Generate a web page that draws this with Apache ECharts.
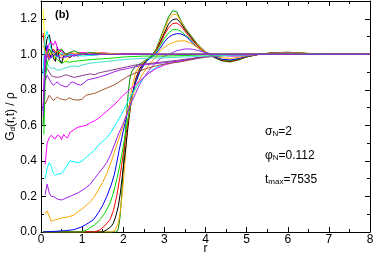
<!DOCTYPE html>
<html><head><meta charset="utf-8">
<script src="https://cdn.jsdelivr.net/npm/echarts@6/dist/echarts.min.js"></script>
<style>html,body{margin:0;padding:0;background:#fff}#c{width:374px;height:256px}</style>
</head><body><div id="c"></div>
<script>
// ---- data: each curve is a list of [r, G_d/rho] pairs ----
const xTicks = [0,1,2,3,4,5,6,7,8];
const yTicks = [0.0,0.2,0.4,0.6,0.8,1.0,1.2];

const cDarkGreen = [[0.05,0],[1.84,0],[1.88,0.02],[1.92,0.08],[1.96,0.2],[2.0,0.36],[2.04,0.52],[2.08,0.66],[2.12,0.78],[2.16,0.86],[2.2,0.9],[2.3,0.935],[2.4,0.945],[2.5,0.96],
 [2.6,0.975],[2.7,0.995],[2.8,1.03],[2.9,1.09],[3.0,1.15],[3.1,1.21],[3.2,1.245],[3.3,1.24],[3.4,1.19],[3.5,1.15],[3.6,1.12],[3.7,1.09],[3.8,1.06],[3.9,1.035],[4.0,1.015],[4.2,0.985],[4.4,0.963],[4.6,0.957],[4.8,0.968],[5.0,0.985],[5.3,1.0],[5.6,1.008],[6.0,1.012],[6.5,1.005],[7.0,1.0],[8.0,1.0]];
const cOrangeA = [[0.05,0],[1.72,0],[1.8,0.01],[1.88,0.05],[1.93,0.12],[1.97,0.2],[2.02,0.33],[2.06,0.45],[2.1,0.58],[2.15,0.7],[2.2,0.8],[2.3,0.9],[2.4,0.935],[2.5,0.955],
 [2.6,0.97],[2.7,0.99],[2.8,1.025],[2.9,1.08],[3.0,1.14],[3.1,1.195],[3.2,1.225],[3.3,1.225],[3.4,1.185],[3.5,1.145],[3.6,1.115],[3.7,1.085],[3.8,1.055],[3.9,1.03],[4.0,1.012],[4.2,0.985],[4.4,0.965],[4.6,0.958],[4.8,0.968],[5.0,0.985],[5.3,1.0],[5.6,1.008],[6.0,1.011],[6.5,1.005],[7.0,1.0],[8.0,1.0]];
const cBlackA = [[0.05,0],[1.5,0],[1.6,0.013],[1.7,0.03],[1.76,0.05],[1.82,0.09],[1.88,0.145],[1.93,0.22],[1.97,0.3],[2.01,0.38],[2.05,0.45],[2.1,0.56],[2.15,0.66],[2.2,0.75],[2.3,0.86],[2.4,0.92],[2.5,0.95],
 [2.6,0.97],[2.7,0.99],[2.8,1.02],[2.9,1.07],[3.0,1.12],[3.1,1.17],[3.2,1.195],[3.3,1.2],[3.4,1.175],[3.5,1.14],[3.6,1.11],[3.7,1.08],[3.8,1.05],[3.9,1.028],[4.0,1.01],[4.2,0.984],[4.4,0.965],[4.6,0.96],[4.8,0.97],[5.0,0.986],[5.3,1.0],[5.6,1.007],[6.0,1.01],[6.5,1.004],[7.0,1.0],[8.0,1.0]];
const cRedA = [[0.05,0],[1.3,0],[1.44,0.013],[1.55,0.035],[1.68,0.07],[1.76,0.12],[1.84,0.2],[1.92,0.31],[2.0,0.44],[2.05,0.52],[2.1,0.6],[2.2,0.74],[2.3,0.85],[2.4,0.91],[2.5,0.945],
 [2.6,0.975],[2.7,0.99],[2.8,1.02],[2.9,1.06],[3.0,1.11],[3.1,1.15],[3.2,1.172],[3.3,1.176],[3.4,1.16],[3.5,1.13],[3.6,1.1],[3.7,1.075],[3.8,1.05],[3.9,1.028],[4.0,1.01],[4.2,0.986],[4.4,0.968],[4.6,0.962],[4.8,0.972],[5.0,0.987],[5.3,1.0],[5.6,1.007],[6.0,1.01],[6.5,1.004],[7.0,1.0],[8.0,1.0]];
const cGreenA = [[0.05,0],[1.0,0],[1.12,0.013],[1.3,0.04],[1.44,0.07],[1.56,0.11],[1.68,0.163],[1.76,0.22],[1.84,0.293],[1.92,0.38],[1.97,0.443],[2.05,0.55],[2.1,0.62],[2.2,0.74],[2.3,0.84],[2.4,0.9],[2.5,0.94],
 [2.6,0.975],[2.7,0.99],[2.8,1.015],[2.9,1.05],[3.0,1.09],[3.1,1.12],[3.2,1.138],[3.3,1.14],[3.4,1.13],[3.5,1.11],[3.6,1.09],[3.7,1.065],[3.8,1.042],[3.9,1.024],[4.0,1.008],[4.2,0.987],[4.4,0.97],[4.6,0.965],[4.8,0.974],[5.0,0.988],[5.3,1.0],[5.6,1.006],[6.0,1.009],[6.5,1.004],[7.0,1.0],[8.0,1.0]];
const cBlueA = [[0.05,0],[0.3,0.003],[0.6,0.008],[0.8,0.013],[1.0,0.03],[1.15,0.05],[1.28,0.07],[1.4,0.11],[1.5,0.15],[1.6,0.2],[1.7,0.26],[1.78,0.32],[1.84,0.387],[1.9,0.46],[1.97,0.536],[2.05,0.62],[2.1,0.67],[2.2,0.76],[2.3,0.84],[2.4,0.9],[2.5,0.94],
 [2.6,0.97],[2.7,0.985],[2.8,1.005],[2.9,1.035],[3.0,1.07],[3.1,1.095],[3.2,1.11],[3.3,1.116],[3.4,1.115],[3.5,1.105],[3.6,1.085],[3.7,1.06],[3.8,1.04],[3.9,1.022],[4.0,1.008],[4.2,0.988],[4.4,0.972],[4.6,0.968],[4.8,0.976],[5.0,0.989],[5.3,1.0],[5.6,1.006],[6.0,1.008],[6.5,1.003],[7.0,1.0],[8.0,1.0]];
const cOrangeB = [[0.1,0.1],[0.15,0.118],[0.2,0.09],[0.25,0.06],[0.3,0.065],[0.4,0.072],[0.5,0.08],[0.6,0.082],[0.7,0.088],[0.8,0.095],[0.9,0.115],[1.0,0.13],[1.1,0.15],[1.2,0.17],[1.3,0.2],[1.4,0.24],[1.5,0.28],[1.6,0.33],[1.7,0.39],[1.8,0.46],[1.9,0.53],[2.0,0.6],[2.1,0.68],[2.2,0.75],[2.3,0.81],[2.4,0.86],[2.5,0.9],
 [2.6,0.93],[2.7,0.96],[2.8,0.99],[2.9,1.02],[3.0,1.04],[3.1,1.055],[3.2,1.065],[3.3,1.073],[3.4,1.076],[3.5,1.075],[3.6,1.068],[3.7,1.055],[3.8,1.04],[3.9,1.025],[4.0,1.012],[4.2,0.992],[4.4,0.98],[4.6,0.977],[4.8,0.983],[5.0,0.992],[5.5,1.005],[6.0,1.009],[6.5,1.004],[7.0,1.0],[8.0,1.0]];
const cVioletA = [[0.1,0.21],[0.15,0.27],[0.2,0.22],[0.25,0.2],[0.3,0.2],[0.4,0.185],[0.5,0.18],[0.6,0.19],[0.7,0.2],[0.8,0.21],[0.9,0.22],[1.0,0.235],[1.1,0.25],[1.2,0.27],[1.3,0.3],[1.4,0.33],[1.5,0.36],[1.6,0.39],[1.7,0.44],[1.8,0.5],[1.9,0.56],[2.0,0.61],[2.1,0.67],[2.2,0.73],[2.3,0.78],[2.4,0.83],[2.5,0.87],
 [2.6,0.9],[2.7,0.93],[2.8,0.955],[2.9,0.975],[3.0,0.99],[3.1,1.0],[3.2,1.01],[3.3,1.02],[3.4,1.025],[3.5,1.03],[3.6,1.03],[3.7,1.028],[3.8,1.022],[4.0,1.01],[4.2,1.0],[4.4,0.993],[4.6,0.99],[4.8,0.99],[5.0,0.995],[5.5,1.003],[6.0,1.007],[6.5,1.003],[7.0,1.0],[8.0,1.0]];
const cCyanA = [[0.1,0.3],[0.15,0.36],[0.2,0.39],[0.25,0.37],[0.3,0.33],[0.35,0.32],[0.4,0.325],[0.5,0.33],[0.6,0.36],[0.7,0.4],[0.8,0.395],[0.9,0.39],[1.0,0.4],[1.1,0.42],[1.2,0.44],[1.3,0.46],[1.4,0.49],[1.5,0.51],[1.6,0.53],[1.7,0.56],[1.8,0.6],[1.9,0.64],[2.0,0.68],[2.1,0.73],[2.2,0.77],[2.3,0.81],[2.4,0.84],[2.5,0.87],
 [2.6,0.89],[2.7,0.91],[2.8,0.925],[2.9,0.935],[3.0,0.945],[3.2,0.955],[3.4,0.962],[3.6,0.97],[3.8,0.978],[4.0,0.985],[4.5,0.993],[5.0,0.998],[6.0,1.003],[7.0,1.0],[8.0,1.0]];
const cMagentaA = [[0.1,0.38],[0.15,0.5],[0.2,0.53],[0.25,0.545],[0.3,0.53],[0.35,0.525],[0.4,0.545],[0.45,0.54],[0.5,0.52],[0.55,0.55],[0.6,0.535],[0.65,0.53],[0.7,0.56],[0.8,0.575],[0.9,0.59],[1.0,0.595],[1.1,0.6],[1.2,0.615],[1.3,0.625],[1.4,0.64],[1.5,0.66],[1.6,0.68],[1.7,0.7],[1.8,0.72],[1.9,0.745],[2.0,0.77],[2.1,0.79],[2.2,0.81],[2.3,0.83],[2.4,0.85],[2.5,0.87],
 [2.6,0.89],[2.7,0.905],[2.8,0.92],[2.9,0.93],[3.0,0.94],[3.2,0.952],[3.4,0.962],[3.6,0.972],[3.8,0.98],[4.0,0.987],[4.5,0.995],[5.0,1.0],[6.0,1.003],[7.0,1.0],[8.0,1.0]];
const cBrownA = [[0.1,0.72],[0.15,0.742],[0.2,0.77],[0.25,0.755],[0.3,0.74],[0.35,0.75],[0.4,0.76],[0.45,0.75],[0.5,0.748],[0.55,0.745],[0.6,0.742],[0.65,0.75],[0.7,0.755],[0.75,0.748],[0.8,0.745],[0.9,0.742],[1.0,0.748],[1.1,0.77],[1.2,0.775],[1.3,0.78],[1.4,0.79],[1.5,0.8],[1.6,0.81],[1.7,0.82],[1.8,0.83],[1.9,0.845],[2.0,0.86],[2.1,0.875],[2.2,0.885],[2.3,0.895],[2.4,0.905],[2.5,0.915],
 [2.6,0.922],[2.8,0.935],[3.0,0.945],[3.2,0.952],[3.4,0.958],[3.6,0.967],[3.8,0.976],[4.0,0.984],[4.5,0.994],[5.0,1.0],[6.0,1.003],[7.0,1.0],[8.0,1.0]];
const cVioletB = [[0.1,0.85],[0.15,0.882],[0.2,0.86],[0.25,0.84],[0.3,0.826],[0.35,0.835],[0.4,0.845],[0.45,0.83],[0.5,0.825],[0.6,0.817],[0.65,0.82],[0.7,0.835],[0.76,0.845],[0.85,0.835],[0.96,0.826],[1.05,0.84],[1.12,0.855],[1.2,0.86],[1.3,0.865],[1.44,0.874],[1.6,0.885],[1.76,0.9],[1.9,0.91],[2.1,0.92],[2.3,0.93],[2.5,0.94],
 [2.8,0.948],[3.0,0.953],[3.2,0.958],[3.4,0.963],[3.6,0.972],[3.8,0.98],[4.0,0.987],[4.5,0.995],[5.0,0.999],[6.0,1.002],[7.0,1.0],[8.0,1.0]];
const cPlum = [[0.1,0.9],[0.15,0.92],[0.2,0.9],[0.25,0.88],[0.3,0.875],[0.4,0.87],[0.5,0.875],[0.6,0.885],[0.7,0.878],[0.8,0.87],[0.9,0.875],[1.0,0.88],[1.1,0.885],[1.2,0.89],[1.3,0.885],[1.4,0.895],[1.5,0.9],[1.7,0.91],[1.9,0.92],[2.1,0.93],[2.3,0.94],[2.5,0.945],
 [2.8,0.953],[3.0,0.958],[3.3,0.966],[3.6,0.975],[4.0,0.986],[4.5,0.994],[5.0,0.999],[6.0,1.002],[7.0,1.0],[8.0,1.0]];
const cTurq = [[0.1,0.97],[0.15,0.95],[0.2,0.93],[0.25,0.92],[0.3,0.925],[0.4,0.91],[0.5,0.915],[0.6,0.925],[0.7,0.93],[0.8,0.935],[0.9,0.93],[1.0,0.94],[1.1,0.945],[1.2,0.95],[1.4,0.955],[1.6,0.96],[1.8,0.965],[2.0,0.97],[2.3,0.975],[2.6,0.978],[3.0,0.98],[3.5,0.985],[4.0,0.99],[5.0,0.998],[6.0,1.002],[7.0,1.0],[8.0,1.0]];
const cGreenL = [[0.07,0.55],[0.1,0.85],[0.15,0.95],[0.2,0.98],[0.25,1.02],[0.3,0.99],[0.4,0.97],[0.5,0.95],[0.6,0.96],[0.7,0.955],[0.8,0.96],[1.0,0.965],[1.2,0.97],[1.5,0.975],[1.8,0.98],[2.0,0.985],[2.5,0.99],[3.0,0.99],[3.5,0.993],[4.0,0.997],[5.0,1.0],[6.0,1.003],[7.0,1.0],[8.0,1.0]];
const cYellowL = [[0.05,1.25],[0.1,1.05],[0.15,1.0],[0.2,0.98],[0.25,1.02],[0.3,1.0],[0.35,0.97],[0.4,1.0],[0.5,0.98],[0.6,0.96],[0.7,0.99],[0.8,1.0],[1.0,0.995],[1.2,1.0],[1.5,1.005],[2.0,1.0],[3.0,1.0],[4.0,1.0],[8.0,1.0]];
const cRedL = [[0.05,1.12],[0.1,1.02],[0.15,1.04],[0.2,0.98],[0.25,1.0],[0.3,1.03],[0.4,1.0],[0.5,1.02],[0.6,0.99],[0.7,1.01],[0.8,1.0],[1.0,1.01],[1.2,1.0],[1.5,1.005],[2.0,1.0],[2.5,1.0],[3.0,0.998],[4.0,1.0],[5.0,1.0],[8.0,1.0]];
const cBlackL = [[0.05,0.9],[0.1,1.02],[0.15,1.09],[0.2,1.11],[0.25,1.05],[0.3,0.98],[0.35,0.96],[0.4,1.04],[0.45,0.97],[0.5,0.95],[0.55,0.99],[0.6,1.0],[0.7,0.98],[0.8,1.0],[0.9,0.99],[1.0,1.0],[1.2,0.995],[1.5,1.0],[2.0,1.0],[8.0,1.0]];
const cBlueL = [[0.05,0.68],[0.1,0.98],[0.15,1.05],[0.2,1.0],[0.25,0.98],[0.3,1.02],[0.4,0.99],[0.5,1.0],[0.6,0.985],[0.7,1.0],[0.8,0.99],[1.0,1.0],[1.5,1.0],[2.0,1.0],[8.0,1.0]];
const cCyanL = [[0.05,0.88],[0.1,1.1],[0.15,1.13],[0.2,1.08],[0.25,1.02],[0.3,1.0],[0.4,0.98],[0.5,1.01],[0.6,0.99],[0.8,1.0],[1.0,0.99],[1.5,1.0],[2.0,1.0],[8.0,1.0]];
const cMagentaL = [[0.05,0.7],[0.1,1.0],[0.15,1.02],[0.2,1.06],[0.25,1.07],[0.3,1.05],[0.35,1.075],[0.4,1.03],[0.5,1.02],[0.6,1.0],[0.7,1.01],[0.8,1.0],[1.0,1.01],[1.2,1.005],[1.5,1.01],[1.8,1.0],[2.0,1.005],[3.0,1.0],[4.0,1.0],[8.0,1.0]];
const cOrangeL = [[0.05,1.05],[0.1,1.02],[0.15,0.98],[0.2,1.03],[0.3,1.0],[0.4,1.02],[0.5,0.99],[0.7,1.01],[1.0,1.0],[1.3,1.01],[2.0,1.0],[8.0,1.0]];
const cGreen4L = [[0.05,0.6],[0.1,0.9],[0.15,1.0],[0.2,1.03],[0.3,0.99],[0.4,1.01],[0.5,1.03],[0.6,1.0],[0.8,1.02],[1.0,1.0],[1.2,1.01],[1.5,1.0],[8.0,1.0]];
const cVioletL = [[0.05,0.65],[0.1,0.95],[0.15,1.0],[0.2,0.97],[0.3,1.0],[0.5,0.98],[0.7,0.99],[1.0,1.0],[8.0,1.0]];

const curves = [cDarkGreen,cOrangeA,cBlackA,cRedA,cGreenA,cBlueA,cOrangeB,cVioletA,cCyanA,cMagentaA,cBrownA,cVioletB,cPlum,cTurq,
  cGreenL,cYellowL,cRedL,cBlackL,cBlueL,cCyanL,cMagentaL,cOrangeL,cGreen4L,cVioletL];
// styles kept separately
const curveColors = ['#008b00','#ffa500','#000000','#ff0000','#00dd00','#0000ff','#ffa500','#a020f0','#00ffff','#ff00ff','#a0522d','#a020f0','#8b3a8b','#40e0d0',
  '#00dd00','#ffff00','#ff0000','#000000','#0000ff','#00ffff','#ff00ff','#ffa500','#008b00','#a020f0'];

const chart = echarts.init(document.getElementById('c'), null, {renderer:'canvas'});
const FONT = 'Liberation Sans';
const axisCommon = {
  axisLine:{show:true,onZero:false,lineStyle:{color:'#000',width:1}},
  axisTick:{show:true,inside:true,length:5,lineStyle:{color:'#000'}},
  minorTick:{show:true,splitNumber:2,length:3,lineStyle:{color:'#000'}},
  splitLine:{show:false}
};
const subRich = {g:{fontFamily:FONT,fontSize:12,color:'#000',lineHeight:16,verticalAlign:'bottom'},
                 s:{fontFamily:FONT,fontSize:8,color:'#000',lineHeight:10,verticalAlign:'bottom'}};
chart.setOption({
  animation:false,
  backgroundColor:'#fff',
  grid:{left:41,right:4,top:1,bottom:24,containLabel:false,outerBoundsMode:'none'},
  xAxis:[
    Object.assign({type:'value',min:xTicks[0],max:xTicks[xTicks.length-1],interval:1,position:'bottom',
      axisLabel:{color:'#000',fontFamily:FONT,fontSize:12,margin:2},
      name:'r',nameLocation:'middle',nameGap:11,nameMoveOverlap:false,
      nameTextStyle:{color:'#000',fontFamily:FONT,fontSize:12,verticalAlign:'top'}},axisCommon),
    Object.assign({type:'value',min:xTicks[0],max:xTicks[xTicks.length-1],interval:1,position:'top',axisLabel:{show:false}},axisCommon)
  ],
  yAxis:[
    Object.assign({type:'value',min:yTicks[0],max:1.3,interval:0.2,position:'left',
      axisLabel:{color:'#000',fontFamily:FONT,fontSize:12,margin:4,showMaxLabel:false,formatter:v=>v.toFixed(1)},
      name:'{g|G}{s|d}{g|(r,t) / ρ}',nameLocation:'middle',nameGap:24,nameMoveOverlap:false,
      nameTextStyle:{color:'#000',fontFamily:FONT,fontSize:12,rich:subRich}},axisCommon),
    Object.assign({type:'value',min:yTicks[0],max:1.3,interval:0.2,position:'right',axisLabel:{show:false}},axisCommon)
  ],
  graphic:[
    {type:'text',left:55,top:9,style:{text:'(b)',fill:'#000',font:'bold 11px '+FONT}},
    {type:'text',left:265,top:126,style:{text:'{g|σ}{s|N}{g|=2}',rich:subRich}},
    {type:'text',left:265,top:150,style:{text:'{g|φ}{s|N}{g|=0.112}',rich:subRich}},
    {type:'text',left:265,top:174,style:{text:'{g|t}{s|max}{g|=7535}',rich:subRich}}
  ],
  series: curves.map((d,i)=>({type:'line',data:d,xAxisIndex:0,yAxisIndex:0,showSymbol:false,symbol:'none',
    lineStyle:{color:curveColors[i],width:1},itemStyle:{color:curveColors[i]},z:2}))
});
</script>
</body></html>
